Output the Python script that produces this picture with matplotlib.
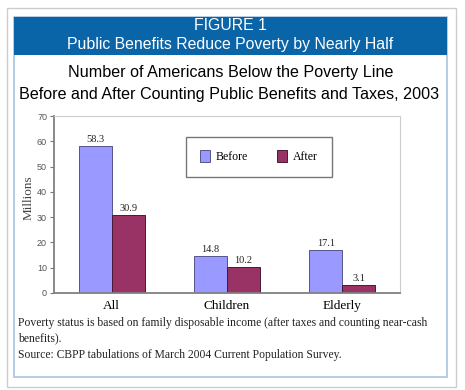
import matplotlib.pyplot as plt
import matplotlib.patches as mpatches
import numpy as np

groups = ['All', 'Children', 'Elderly']
before = [58.3, 14.8, 17.1]
after = [30.9, 10.2, 3.1]
yticks = [0, 10, 20, 30, 40, 50, 60, 70]

W, H = 465, 390
fig = plt.figure(figsize=(W / 100, H / 100), dpi=100)
fig.patch.set_facecolor('white')

def px(x0, y0, x1, y1, **kw):
    # rectangle given in pixel coords (top-left origin)
    r = mpatches.Rectangle((x0 / W, 1 - y1 / H), (x1 - x0) / W, (y1 - y0) / H,
                           transform=fig.transFigure, zorder=-10, **kw)
    fig.patches.append(r)

px(7, 8, 456, 387, facecolor='white', edgecolor='#cccccc', lw=1)
px(14, 17, 447, 377, facecolor='white', edgecolor='#a9c3df', lw=1.2)
px(14, 17, 447, 55, facecolor='#0a64a8', edgecolor='none')

sans = 'Liberation Sans'
serif = 'Liberation Serif'
fig.text(230 / W, 1 - 25 / H, 'FIGURE 1', color='white', fontsize=11.4,
         family=sans, ha='center', va='center')
fig.text(230 / W, 1 - 45 / H, 'Public Benefits Reduce Poverty by Nearly Half',
         color='white', fontsize=11.4, family=sans, ha='center', va='center')
fig.text(231 / W, 1 - 73 / H, 'Number of Americans Below the Poverty Line',
         color='black', fontsize=11.6, family=sans, ha='center', va='center')
fig.text(229 / W, 1 - 94 / H,
         'Before and After Counting Public Benefits and Taxes, 2003',
         color='black', fontsize=11.6, family=sans, ha='center', va='center')

ax = fig.add_axes([54 / W, 1 - 293 / H, 346 / W, 177 / H])
x = np.arange(len(groups))
bw = 0.285
b1 = ax.bar(x - bw / 2, before, bw, color='#9999ff', edgecolor='#55558a',
            lw=0.7, label='Before')
b2 = ax.bar(x + bw / 2, after, bw, color='#993366', edgecolor='#4a1a33',
            lw=0.7, label='After')
for bars, vals in ((b1, before), (b2, after)):
    for r, v in zip(bars, vals):
        ax.text(r.get_x() + r.get_width() / 2, v + 0.8, f'{v:.1f}',
                ha='center', va='bottom', fontsize=7.5, family=serif,
                color='#222222')

ax.set_xlim(-0.5, 2.5)
ax.set_ylim(0, 70)
ax.set_yticks(yticks)
ax.set_xticks(x)
ax.set_xticklabels(groups, family=serif, fontsize=9.5)
ax.tick_params(axis='x', length=0, pad=5)
ax.tick_params(axis='y', length=3, width=0.8, labelsize=6.5, labelcolor='#555555',
               color='#777777', pad=2)
for lab in ax.get_yticklabels():
    lab.set_family(sans)
ax.set_ylabel('Millions', family=serif, fontsize=9.5, color='#444444')
ax.yaxis.set_label_coords(-0.055, 0.54)
ax.spines['left'].set_color('#808080')
ax.spines['left'].set_linewidth(1.3)
ax.spines['bottom'].set_color('#808080')
ax.spines['bottom'].set_linewidth(1.3)
ax.spines['top'].set_color('#cccccc')
ax.spines['right'].set_color('#cccccc')

leg = ax.legend(loc='upper left', bbox_to_anchor=(0.3815, 0.882), ncol=2,
                fancybox=False, edgecolor='#777777', framealpha=1,
                prop={'family': serif, 'size': 8.5}, handlelength=0.9,
                handleheight=1.1, handletextpad=0.5, columnspacing=2.4,
                borderpad=1.15, borderaxespad=0)
leg.get_frame().set_linewidth(1.0)

fig.text(18 / W, 1 - 323 / H,
         'Poverty status is based on family disposable income (after taxes and counting near-cash',
         fontsize=8.4, family=serif, va='center', color='#222222')
fig.text(18 / W, 1 - 338 / H, 'benefits).', fontsize=8.4, family=serif,
         va='center', color='#222222')
fig.text(18 / W, 1 - 355 / H,
         'Source: CBPP tabulations of March 2004 Current Population Survey.',
         fontsize=8.4, family=serif, va='center', color='#222222')

fig.savefig('out.png', dpi=100)
